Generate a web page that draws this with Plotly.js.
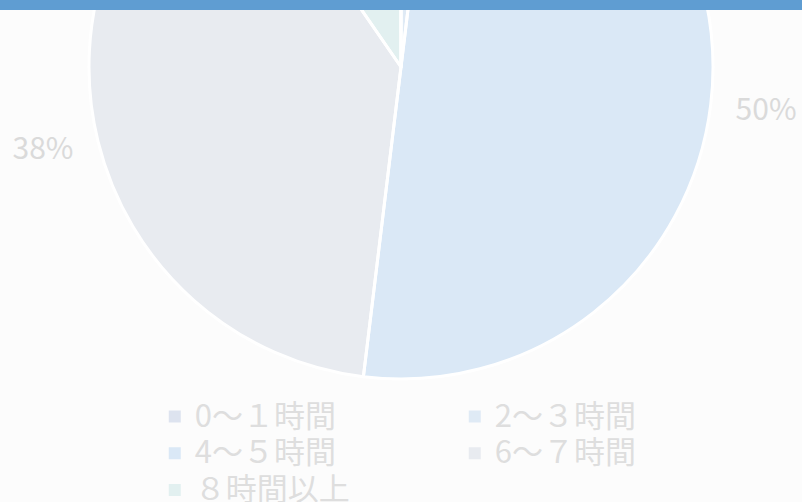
<!DOCTYPE html>
<html>
<head>
<meta charset="utf-8">
<script src="https://cdn.plot.ly/plotly-3.0.1.min.js"></script>
<style>
html,body{margin:0;padding:0;overflow:hidden;background:#fcfcfc;width:802px;height:502px;}
#chart{position:absolute;left:0;top:-259px;width:802px;height:761px;}
</style>
</head>
<body>
<div id="chart"></div>
<script>
const categories = ["0～１時間", "2～３時間", "4～５時間", "6～７時間", "８時間以上"];
const counts = [0, 1, 26, 20, 5];
const sliceColors = ["#dde3ef", "#dfeaf5", "#dae8f6", "#e8ebf0", "#e2f0f0"];
// only the percentage labels that are in view in the reference
const shownLabels = [false, false, true, true, false];

const FONT = "'Noto Sans CJK JP', 'Noto Sans', sans-serif";

const legendLabels = categories.map(c => '<span style="font-size:31px">' + c + '</span>');

const PLOT_H = 652;      // plot area height (label ring)
const PIE_R = 312;       // pie radius in px
const pieDomain = {x: [0, 1], y: [0.5 - PIE_R / PLOT_H, 0.5 + PIE_R / PLOT_H]};
const common = {type: "pie", labels: legendLabels, values: counts, sort: false, direction: "clockwise", rotation: 0};

// main pie (slice fills + legend)
const pie = Object.assign({}, common, {
  domain: pieDomain,
  marker: {colors: sliceColors, line: {width: 0}},
  textinfo: "none",
  hoverinfo: "percent",
  showlegend: true
});

// white separators drawn over the slices
const separators = Object.assign({}, common, {
  domain: pieDomain,
  marker: {colors: counts.map(() => "rgba(0,0,0,0)"), line: {color: "#ffffff", width: 3}},
  textinfo: "none",
  hoverinfo: "skip",
  showlegend: false
});

// same data, transparent, slightly larger ring: places the percent labels
const labelRing = Object.assign({}, common, {
  domain: {x: [0, 1], y: [0, 1]},
  marker: {colors: counts.map(() => "rgba(0,0,0,0)"), line: {width: 0}},
  texttemplate: shownLabels.map(s => s ? "%{percent:.0%}" : ""),
  textposition: "outside",
  outsidetextfont: {family: FONT, size: 30, color: "#dadada"},
  hoverinfo: "skip",
  showlegend: false
});

const layout = {
  width: 802,
  height: 761,
  margin: {l: 0, r: 0, t: 0, b: 761 - PLOT_H, autoexpand: false},
  paper_bgcolor: "#fcfcfc",
  plot_bgcolor: "#fcfcfc",
  font: {family: FONT, color: "#dedede"},
  showlegend: true,
  legend: {
    orientation: "h",
    x: 0.193, xanchor: "left",
    y: 0, yanchor: "top",
    entrywidth: 255,
    font: {family: FONT, size: 26, color: "#dedede"},
    traceorder: "normal",
    bgcolor: "rgba(0,0,0,0)"
  },
  shapes: [{
    type: "rect", xref: "paper", yref: "paper",
    x0: 0, x1: 1, y0: 1 - 269 / PLOT_H, y1: 1 - 259 / PLOT_H,
    fillcolor: "#5f9dd2", line: {width: 0}, layer: "above"
  }]
};

Plotly.newPlot("chart", [pie, separators, labelRing], layout, {displayModeBar: false, staticPlot: true});
</script>
</body>
</html>
